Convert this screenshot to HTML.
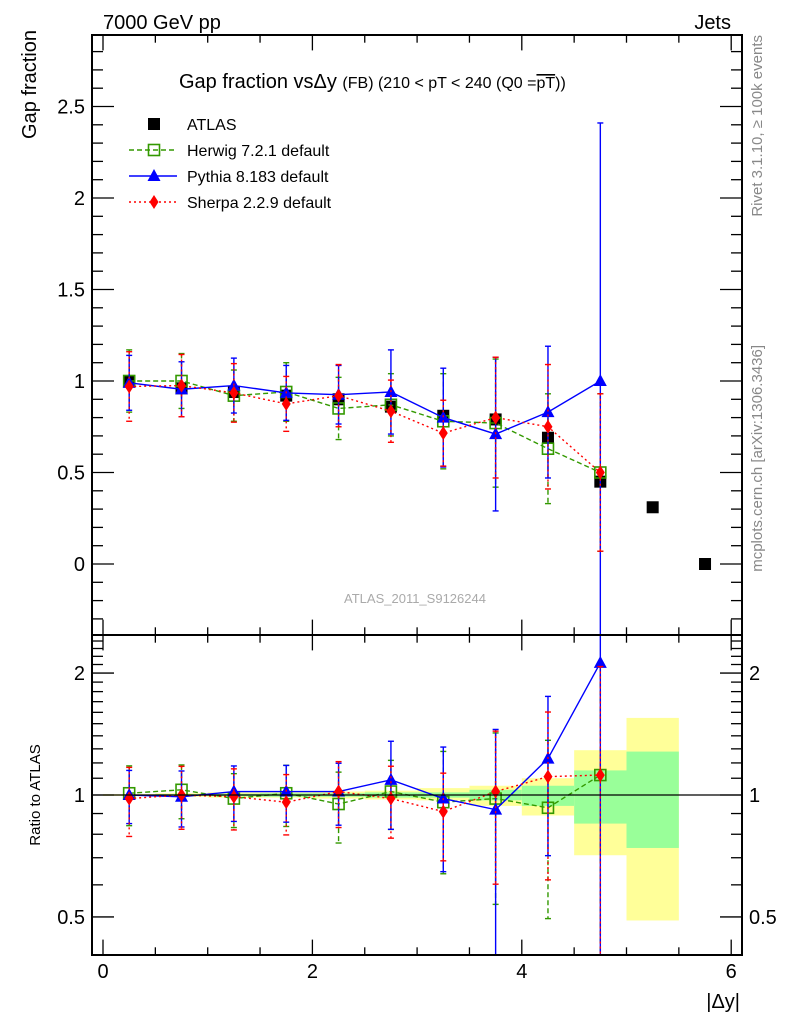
<!DOCTYPE html>
<html><head><meta charset="utf-8"><style>
html,body{margin:0;padding:0;background:#fff;overflow:hidden;width:786px;height:1024px;}
svg{display:block;font-family:"Liberation Sans",sans-serif;}
</style></head><body>
<svg id="c" width="786" height="1024" viewBox="0 0 786 1024" xmlns="http://www.w3.org/2000/svg">
<defs>
<clipPath id="clipMain"><rect x="92" y="35" width="650" height="600"/></clipPath>
<clipPath id="clipRatio"><rect x="92" y="635" width="650" height="320"/></clipPath>
</defs>
<g id="bands" clip-path="url(#clipRatio)"></g>
<g id="marks"></g>
<g id="axes"></g>
<text x="103" y="29" font-size="20">7000 GeV pp</text>
<text x="731" y="29" font-size="20" text-anchor="end">Jets</text>
<text transform="translate(36,30) rotate(-90)" font-size="20" text-anchor="end">Gap fraction</text>
<text transform="translate(40,795) rotate(-90)" font-size="15" text-anchor="middle">Ratio to ATLAS</text>
<text x="179" y="88" font-size="20">Gap fraction vsΔy <tspan font-size="16">(FB) (210 &lt; pT &lt; 240 (Q0 =</tspan><tspan font-size="16" text-decoration="overline">pT</tspan><tspan font-size="16">))</tspan></text>
<text transform="translate(762,35) rotate(-90)" font-size="15" fill="#888" text-anchor="end">Rivet 3.1.10, ≥ 100k events</text>
<text transform="translate(762,345) rotate(-90)" font-size="15" fill="#888" text-anchor="end">mcplots.cern.ch [arXiv:1306.3436]</text>
<text x="415" y="603" font-size="13" fill="#aaa" text-anchor="middle">ATLAS_2011_S9126244</text>
<text x="740" y="1008" font-size="20" text-anchor="end">|Δy|</text>
<g id="legend"></g>
</svg>
<script>
const xs = [0.25,0.75,1.25,1.75,2.25,2.75,3.25,3.75,4.25,4.75,5.25,5.75];
const atlas = [1.0,0.96,0.94,0.92,0.90,0.86,0.81,0.79,0.69,0.45,0.31,0.0];
const herwig = [1.0,1.0,0.92,0.94,0.85,0.87,0.78,0.77,0.63,0.50];
const herwigErr = [0.17,0.15,0.14,0.16,0.17,0.17,0.26,0.35,0.30,0.43];
const pythia = [0.99,0.955,0.975,0.935,0.925,0.94,0.80,0.71,0.83,1.0];
const pythiaErr = [0.15,0.15,0.15,0.15,0.16,0.23,0.27,0.42,0.36,1.41];
const sherpa = [0.97,0.975,0.935,0.875,0.92,0.835,0.715,0.80,0.75,0.50];
const sherpaErr = [0.19,0.17,0.16,0.15,0.17,0.17,0.18,0.33,0.34,0.43];
const herwigRatio = [1.01,1.03,0.98,1.01,0.95,1.02,0.96,0.98,0.93,1.12];
const pythiaRatio = [1.0,0.99,1.02,1.02,1.02,1.09,0.98,0.92,1.23,2.12];
const sherpaRatio = [0.98,1.0,0.99,0.96,1.02,0.98,0.91,1.02,1.11,1.12];
const binEdges = [0,0.5,1,1.5,2,2.5,3,3.5,4,4.5,5,5.5];
const bandTotLo = [0.995,0.99,0.985,0.985,0.98,0.975,0.97,0.94,0.89,0.71,0.49];
const bandTotHi = [1.005,1.01,1.015,1.015,1.02,1.025,1.04,1.054,1.10,1.29,1.55];
const bandStatLo = [0.998,0.995,0.993,0.99,0.99,0.985,0.985,0.97,0.94,0.85,0.74];
const bandStatHi = [1.002,1.005,1.007,1.01,1.01,1.015,1.015,1.03,1.054,1.15,1.28];
const mainTicks = ["0","0.5","1","1.5","2","2.5"];
const ratioTicks = ["0.5","1","2"];
const xTicks = ["0","2","4","6"];

const NS="http://www.w3.org/2000/svg";
const X=v=>103+v*104.7;
const Y=v=>564-v*183;
const R=v=>795-Math.log10(v)*405;
const GREEN="#339900", BLUE="#0000ff", RED="#ff0000";
function mk(parent,tag,attrs){const e=document.createElementNS(NS,tag);for(const k in attrs)e.setAttribute(k,attrs[k]);parent.appendChild(e);return e;}
const axes=document.getElementById('axes'), marks=document.getElementById('marks'), bands=document.getElementById('bands'), legend=document.getElementById('legend');

for(let i=0;i<bandTotLo.length;i++){
  const x0=X(binEdges[i]), x1=X(binEdges[i]+0.5);
  const a=mk(bands,'rect',{x:x0,y:R(bandTotHi[i]),width:x1-x0,height:R(bandTotLo[i])-R(bandTotHi[i]),fill:'#ffff99'});
  
  
  const b=mk(bands,'rect',{x:x0,y:R(bandStatHi[i]),width:x1-x0,height:R(bandStatLo[i])-R(bandStatHi[i]),fill:'#99ff99'});
  
  
}

mk(axes,'rect',{x:92,y:35,width:650,height:600,fill:'none',stroke:'#000','stroke-width':2});
mk(axes,'rect',{x:92,y:635,width:650,height:320,fill:'none',stroke:'#000','stroke-width':2});
mk(axes,'line',{x1:92,y1:795,x2:742,y2:795,stroke:'#000','stroke-width':1.3});
for(let k=-3;k<=28;k++){const v=k/10,y=Y(v);if(y<36||y>634)continue;const L=(k%5===0)?22:11;
  mk(axes,'line',{x1:92,y1:y,x2:92+L,y2:y,stroke:'#000','stroke-width':1.3});
  mk(axes,'line',{x1:742,y1:y,x2:742-L,y2:y,stroke:'#000','stroke-width':1.3});}
mainTicks.forEach(t=>{const e=mk(axes,'text',{x:85,y:Y(parseFloat(t))+7,'font-size':20,'text-anchor':'end'});e.textContent=t;
  
  });
for(let k=4;k<=24;k++){const v=k/10,y=R(v);if(y<636||y>954)continue;const L=(k===5||k===10||k===20)?22:11;
  mk(axes,'line',{x1:92,y1:y,x2:92+L,y2:y,stroke:'#000','stroke-width':1.3});
  mk(axes,'line',{x1:742,y1:y,x2:742-L,y2:y,stroke:'#000','stroke-width':1.3});}
ratioTicks.forEach(t=>{const v=parseFloat(t);
  const e=mk(axes,'text',{x:85,y:R(v)+7,'font-size':20,'text-anchor':'end'});e.textContent=t;
  
  
  const f=mk(axes,'text',{x:749,y:R(v)+7,'font-size':20});f.textContent=t;
  
  });
for(let k=0;k<=12;k++){const v=k/2,x=X(v);const L=(k%4===0)?22:11;
  mk(axes,'line',{x1:x,y1:955,x2:x,y2:955-L*0.7,stroke:'#000','stroke-width':1.3});
  mk(axes,'line',{x1:x,y1:635,x2:x,y2:635-L*0.7,stroke:'#000','stroke-width':1.3});
  mk(axes,'line',{x1:x,y1:635,x2:x,y2:635+L*0.7,stroke:'#000','stroke-width':1.3});
  mk(axes,'line',{x1:x,y1:35,x2:x,y2:35+L*0.7,stroke:'#000','stroke-width':1.3});}
xTicks.forEach(t=>{const e=mk(axes,'text',{x:X(parseFloat(t)),y:978,'font-size':20,'text-anchor':'middle'});e.textContent=t;
  
  });

function marker(g,type,x,y,color){
  if(type==='sq') return mk(g,'rect',{x:x-6,y:y-6,width:12,height:12,fill:'#000'});
  if(type==='osq') return mk(g,'rect',{x:x-5.5,y:y-5.5,width:11,height:11,fill:'none',stroke:color,'stroke-width':1.6});
  if(type==='tri') return mk(g,'polygon',{points:`${x},${y-7} ${x-6.5},${y+5} ${x+6.5},${y+5}`,fill:color});
  if(type==='dia') return mk(g,'polygon',{points:`${x},${y-7} ${x-4.5},${y} ${x},${y+7} ${x+4.5},${y}`,fill:color});
}
function series(name,vals,errs,color,dash,type,ymap,clip,isRatio,top,bot){
  const g=mk(marks,'g',{'clip-path':clip});
  
  
  const pts=vals.map((v,i)=>`${X(xs[i])},${ymap(v)}`).join(' ');
  mk(g,'polyline',{points:pts,fill:'none',stroke:color,'stroke-width':1.4,'stroke-dasharray':dash});
  vals.forEach((v,i)=>{const x=X(xs[i]);
    let e=errs[i]; if(isRatio) e=errs[i]/atlas[i];
    const lo=v-e, hi=v+e;
    let y1=ymap(hi), y2=lo>0.01?ymap(lo):bot+10;
    const c1=Math.max(top,y1), c2=Math.min(bot,y2);
    mk(g,'line',{x1:x,y1:c1,x2:x,y2:c2,stroke:color,'stroke-width':1.4,'stroke-dasharray':dash});
    if(y1>=top) mk(g,'line',{x1:x-3,y1:y1,x2:x+3,y2:y1,stroke:color,'stroke-width':1.4});
    if(y2<=bot) mk(g,'line',{x1:x-3,y1:y2,x2:x+3,y2:y2,stroke:color,'stroke-width':1.4});
  });
  vals.forEach((v,i)=>{const m=marker(g,type,X(xs[i]),ymap(v),color);
    
    });
}
const ga=mk(marks,'g',{'clip-path':'url(#clipMain)'});


atlas.forEach((v,i)=>{const m=marker(ga,'sq',X(xs[i]),Y(v),'#000');
  
  });
series('herwig-series',herwig,herwigErr,GREEN,'5,3','osq',Y,'url(#clipMain)',false,35,635);
series('pythia-series',pythia,pythiaErr,BLUE,'none','tri',Y,'url(#clipMain)',false,35,635);
series('sherpa-series',sherpa,sherpaErr,RED,'2,3','dia',Y,'url(#clipMain)',false,35,635);
series('herwig-ratio',herwigRatio,herwigErr,GREEN,'5,3','osq',R,'url(#clipRatio)',true,635,955);
series('pythia-ratio',pythiaRatio,pythiaErr,BLUE,'none','tri',R,'url(#clipRatio)',true,635,955);
series('sherpa-ratio',sherpaRatio,sherpaErr,RED,'2,3','dia',R,'url(#clipRatio)',true,635,955);

const leg=[["ATLAS","#000","none","sq",false],["Herwig 7.2.1 default",GREEN,"5,3","osq",true],["Pythia 8.183 default",BLUE,"none","tri",true],["Sherpa 2.2.9 default",RED,"2,3","dia",true]];
leg.forEach((l,i)=>{const y=124+i*26;const g=mk(legend,'g',{});
  
  
  if(l[4]) mk(g,'line',{x1:129,y1:y,x2:177,y2:y,stroke:l[1],'stroke-width':1.4,'stroke-dasharray':l[2]});
  marker(g,l[3],154,y,l[1]);
  const t=mk(g,'text',{x:187,y:y+6,'font-size':16});t.textContent=l[0];});
</script>
</body></html>
